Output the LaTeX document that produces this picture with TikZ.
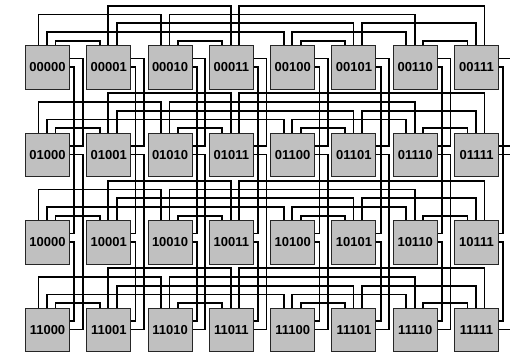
\documentclass[tikz,border=0pt]{standalone}
\usepackage{fontspec}
\setmainfont{Liberation Sans}
\usetikzlibrary{calc}
\definecolor{boxgray}{RGB}{192,192,192}
\newcommand\tedge[5]{\draw[wire] ($(#1.north west)+(#2,0)$) -- ++(0,-#5) -| ($(#3.north west)+(#4,0)$);}
\newcommand\redge[5]{\draw[wire] ($(#1.north east)+(0,#2)$) -- ++(#5,0) |- ($(#3.north east)+(0,#4)$);}
\begin{document}
\begin{tikzpicture}[x=1pt,y=-1pt,
  box/.style={draw=black!85, line width=1pt, fill=boxgray, minimum width=44pt,
    minimum height=43.5pt, inner sep=0pt, anchor=north west,
    font=\fontsize{13}{13}\selectfont\bfseries},
  wire/.style={line width=1.8pt, black}]
\useasboundingbox (0,0) rectangle (510,351);
% nodes
\foreach \rb [count=\r from 0] in {00,01,10,11}{
  \foreach \cb [count=\c from 0] in {000,001,010,011,100,101,110,111}{
    \node[box] (n\rb\cb) at ({25+61.29*\c},{45+87.5*\r}) {\rb\cb};
  }
}
% edges inside each row (dimensions 0,1,2)
\foreach \rb in {00,01,10,11}{
  \tedge{n\rb000}{30.5}{n\rb001}{13.5}{4.3}
  \tedge{n\rb010}{30.5}{n\rb011}{13.5}{4.3}
  \tedge{n\rb100}{30.5}{n\rb101}{13.5}{4.3}
  \tedge{n\rb110}{30.5}{n\rb111}{13.5}{4.3}
  \tedge{n\rb001}{22}{n\rb011}{22}{39.3}
  \tedge{n\rb011}{30.5}{n\rb111}{30.5}{39.3}
  \tedge{n\rb000}{13.5}{n\rb010}{13.5}{30.6}
  \tedge{n\rb010}{22}{n\rb110}{22}{30.6}
  \tedge{n\rb001}{30.5}{n\rb101}{22}{21.8}
  \tedge{n\rb101}{30.5}{n\rb111}{22}{21.8}
  \tedge{n\rb000}{22}{n\rb100}{13.5}{13}
  \tedge{n\rb100}{22}{n\rb110}{13.5}{13}
}
% edges between rows (dimensions 3,4)
\foreach \cb in {000,001,010,011,100,101,110,111}{
  \redge{n00\cb}{13.5}{n01\cb}{13.5}{12.7}
  \redge{n01\cb}{22}{n11\cb}{22}{12.7}
  \redge{n00\cb}{22}{n10\cb}{13.5}{4.3}
  \redge{n10\cb}{22}{n11\cb}{13.5}{4.3}
}
\end{tikzpicture}
\end{document}
